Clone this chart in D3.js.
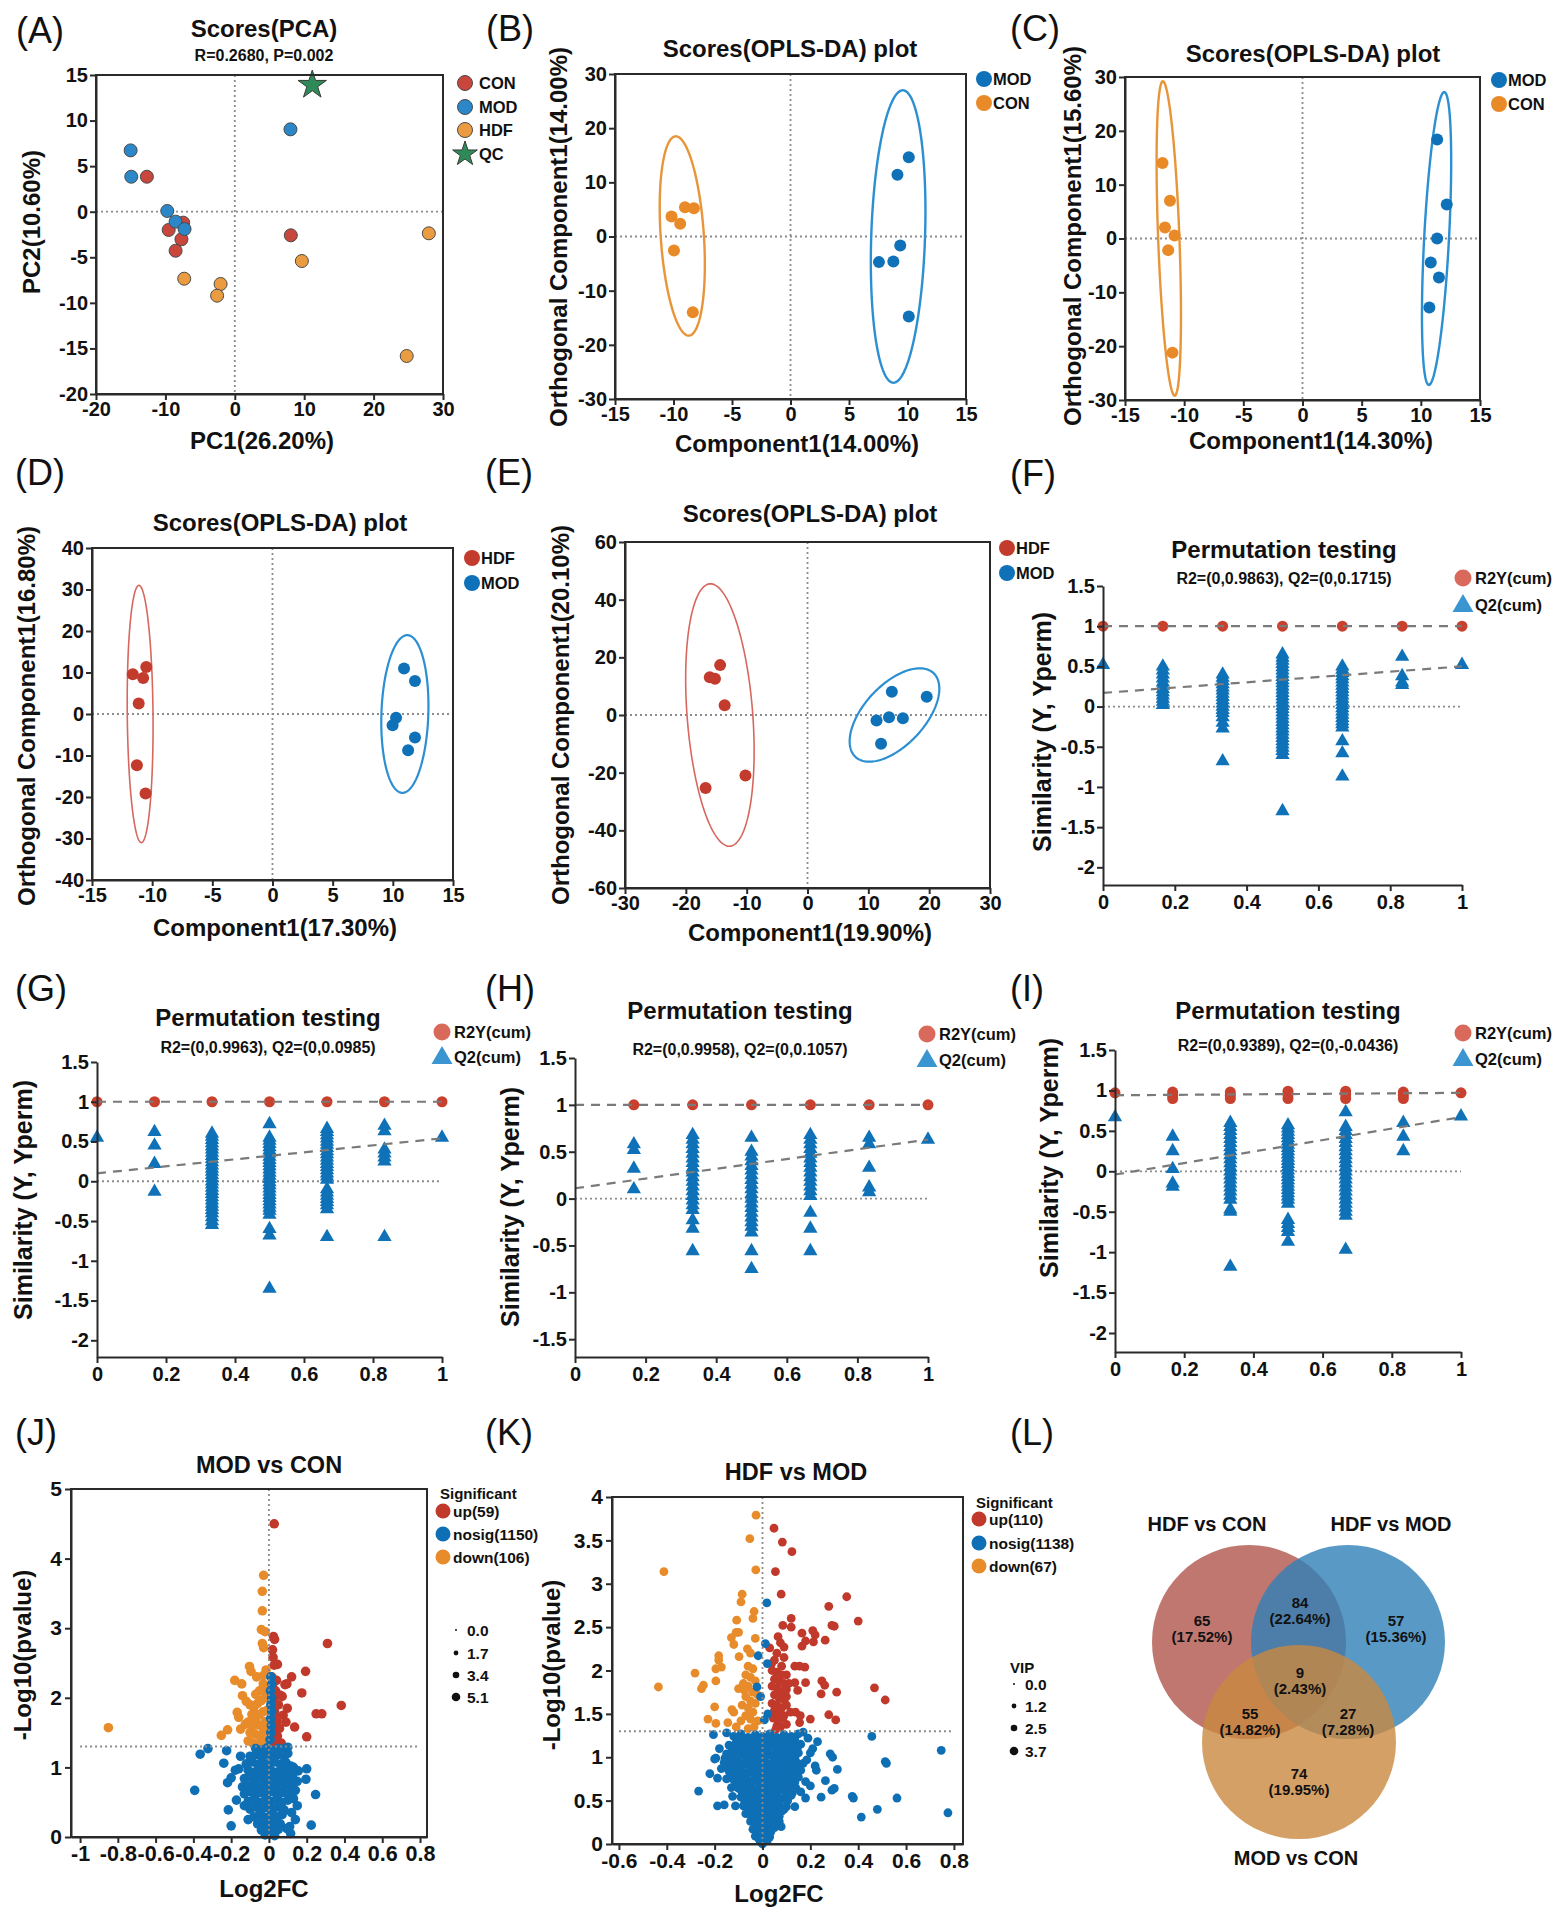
<!DOCTYPE html>
<html>
<head>
<meta charset="utf-8">
<script src="https://cdnjs.cloudflare.com/ajax/libs/d3/7.8.5/d3.min.js"></script>
<style>
  body { margin: 0; background: #fff; }
  svg { display: block; }
</style>
</head>
<body>
<svg id="fig"></svg>
<script>
// ---------- data ----------
// (A) PCA scores
const pcaCON = [[-12.67,3.84],[-9.53,-2.0],[-7.44,-1.2],[-7.69,-3.03],[-8.53,-4.28],[8.07,-2.59]];
const pcaMOD = [[-15.01,6.73],[-14.92,3.84],[-9.73,0.08],[-8.53,-1.09],[-7.24,-1.9],[8.02,9.04]];
const pcaHDF = [[-7.29,-7.35],[-2.05,-7.93],[-2.55,-9.21],[9.66,-5.41],[27.96,-2.37],[24.77,-15.83]];
const pcaQC = [[11.16,13.9]];

// (B)-(E) OPLS-DA scores
const bMOD = [[10.11,14.63],[9.14,11.38],[9.38,-1.65],[7.56,-4.73],[8.79,-4.6],[10.11,-14.75]];
const bCON = [[-10.17,3.69],[-9.43,2.34],[-9.02,5.4],[-8.26,5.23],[-9.96,-2.57],[-8.35,-14.0]];
const cMOD = [[11.38,18.37],[12.19,6.31],[11.38,0.0],[10.84,-4.45],[11.53,-7.23],[10.72,-12.8]];
const cCON = [[-11.83,14.04],[-11.2,7.0],[-11.62,2.05],[-10.81,0.56],[-11.35,-2.16],[-10.99,-21.2]];
const dHDF = [[-11.61,9.58],[-10.49,11.35],[-10.75,8.7],[-11.12,2.52],[-11.27,-12.33],[-10.55,-19.15]];
const dMOD = [[10.93,10.95],[11.84,7.98],[10.27,-0.93],[9.98,-2.7],[11.84,-5.67],[11.27,-8.72]];
const eHDF = [[-16.06,13.06],[-15.21,12.6],[-14.36,17.3],[-13.62,3.37],[-16.75,-25.35],[-10.2,-20.97]];
const eMOD = [[13.86,8.1],[19.6,6.37],[11.35,-1.94],[13.4,-0.78],[15.68,-1.13],[12.09,-10.0]];

// confidence ellipses: centre + two half-axis vectors (data units)
const bEllipses = [{cx:-9.25,cy:0.1,ax:-0.55,ay:18.4,bx:1.85,by:0}, {cx:9.2,cy:0,ax:0.4,ay:27,bx:2.3,by:0}];
const cEllipses = [{cx:-11.3,cy:0,ax:-0.5,ay:29.2,bx:0.9,by:0}, {cx:11.33,cy:0,ax:0.65,ay:27.2,bx:1.05,by:0}];
const dEllipses = [{cx:-11.0,cy:0,ax:-0.1,ay:31,bx:1.07,by:0}, {cx:11.0,cy:0,ax:0.2,ay:19,bx:1.95,by:0}];
const eEllipses = [{cx:-14.4,cy:0,ax:-1.55,ay:45.5,bx:5.41,by:0}, {cx:14.3,cy:0,ax:6.0,ay:15.2,bx:4.28,by:-5.6}];

// (F)-(I) permutation tests, one list per permutation group
const permX = [0, 0.1667, 0.3333, 0.5, 0.6667, 0.8333, 1];
const fR2 = [[1],[1],[1],[1],[1],[1],[1]];
const fQ2 = [
  [0.52],
  [0.5,0.45,0.4,0.35,0.3,0.26,0.22,0.18,0.14,0.1,0.06,0.02],
  [0.4,0.36,0.32,0.28,0.24,0.2,0.16,0.12,0.08,0.04,0,-0.04,-0.08,-0.13,-0.2,-0.27,-0.68],
  [0.65,0.61,0.57,0.53,0.49,0.45,0.41,0.37,0.33,0.29,0.25,0.21,0.17,0.13,0.09,0.05,0.01,-0.03,-0.07,-0.11,-0.15,-0.19,-0.23,-0.27,-0.31,-0.35,-0.39,-0.43,-0.47,-0.51,-0.55,-0.6,-1.3],
  [0.5,0.46,0.42,0.38,0.34,0.3,0.26,0.22,0.18,0.14,0.1,0.06,0.02,-0.02,-0.06,-0.1,-0.14,-0.18,-0.22,-0.26,-0.43,-0.58,-0.87],
  [0.62,0.38,0.3,0.27],
  [0.52]
];
const fLines = [[[0,1],[1,1]], [[0,0.17],[1,0.5]]];

const gR2 = [[1],[1],[1],[1],[1],[1],[1]];
const gQ2 = [
  [0.55],
  [0.62,0.45,0.22,-0.13],
  [0.6,0.56,0.52,0.48,0.44,0.4,0.36,0.32,0.28,0.24,0.2,0.16,0.12,0.08,0.04,0,-0.04,-0.08,-0.12,-0.16,-0.2,-0.24,-0.28,-0.32,-0.36,-0.4,-0.45,-0.5,-0.55],
  [0.72,0.55,0.51,0.47,0.43,0.39,0.35,0.31,0.27,0.23,0.19,0.15,0.11,0.07,0.03,-0.01,-0.05,-0.09,-0.13,-0.17,-0.21,-0.25,-0.29,-0.33,-0.37,-0.42,-0.6,-0.68,-1.35],
  [0.66,0.62,0.58,0.54,0.5,0.46,0.42,0.38,0.34,0.3,0.26,0.22,0.18,0.14,0.1,0.06,0.02,-0.1,-0.14,-0.18,-0.22,-0.26,-0.3,-0.35,-0.7],
  [0.7,0.63,0.4,0.35,0.3,0.25,-0.7],
  [0.55]
];
const gLines = [[[0,1],[1,1]], [[0,0.1],[1,0.54]]];

const hR2 = [[],[1],[1],[1],[1],[1],[1]];
const hQ2 = [
  [],
  [0.58,0.52,0.32,0.1],
  [0.68,0.63,0.58,0.53,0.48,0.43,0.38,0.33,0.28,0.23,0.18,0.13,0.08,0.03,-0.02,-0.07,-0.12,-0.23,-0.32,-0.56],
  [0.65,0.5,0.45,0.4,0.35,0.3,0.25,0.2,0.15,0.1,0.05,0,-0.05,-0.1,-0.15,-0.2,-0.25,-0.3,-0.36,-0.56,-0.75],
  [0.68,0.63,0.58,0.53,0.48,0.43,0.38,0.33,0.28,0.23,0.18,0.13,0.08,0.03,-0.15,-0.32,-0.56],
  [0.65,0.58,0.33,0.12,0.07],
  [0.63]
];
const hLines = [[[0,1],[1,1]], [[0,0.11],[1,0.63]]];

const iR2 = [[0.97],[0.98,0.94,0.9],[0.98,0.94,0.9],[0.99,0.95,0.9],[0.99,0.95,0.9],[0.98,0.94,0.9],[0.97]];
const iQ2 = [
  [0.67],
  [0.43,0.25,0.03,-0.15,-0.19],
  [0.6,0.55,0.5,0.45,0.4,0.35,0.3,0.25,0.2,0.15,0.1,0.05,0,-0.05,-0.1,-0.15,-0.2,-0.25,-0.3,-0.35,-0.47,-0.5,-1.18],
  [0.57,0.53,0.49,0.45,0.41,0.37,0.33,0.29,0.25,0.21,0.17,0.13,0.09,0.05,0.01,-0.03,-0.07,-0.11,-0.15,-0.19,-0.23,-0.27,-0.31,-0.35,-0.4,-0.6,-0.65,-0.7,-0.75,-0.87],
  [0.73,0.55,0.5,0.45,0.4,0.35,0.3,0.25,0.2,0.15,0.1,0.05,0,-0.05,-0.1,-0.15,-0.2,-0.25,-0.3,-0.35,-0.4,-0.45,-0.5,-0.55,-0.97],
  [0.6,0.43,0.25],
  [0.68]
];
const iLines = [[[0,0.94],[1,0.97]], [[0,-0.04],[1,0.67]]];

// (J) volcano MOD vs CON  [log2FC, -log10 p]
const jUp = [[0.028,4.5],[0.31,2.78],[0.024,2.88],[0.03,2.84],[0.019,2.69],[0.022,2.58],[0.028,2.47],[0.045,2.48],[0.194,2.38],[0.12,2.3],[0.085,2.19],[0.095,2.2],[0.174,2.07],[0.056,2.04],[0.383,1.89],[0.097,1.85],[0.25,1.77],[0.28,1.77],[0.075,1.75],[0.09,1.65],[0.043,1.66],[0.136,1.58],[0.056,1.56],[0.2,1.44],[0.028,1.47],[0.065,1.35],[0.015,2.3],[0.02,2.15],[0.025,1.95],[0.03,1.8],[0.015,1.7],[0.035,1.72],[0.02,1.55],[0.045,1.45],[0.03,1.35],[0.06,1.33],[0.012,1.4],[0.05,1.9],[0.04,2.25],[0.07,2.02],[0.035,2.1]];
const jDown = [[-0.85,1.57],[-0.252,1.46],[-0.219,1.54],[-0.168,1.79],[-0.16,1.72],[-0.15,1.55],[-0.181,2.25],[-0.144,2.2],[-0.103,2.45],[-0.095,2.38],[-0.065,2.3],[-0.028,3.76],[-0.035,3.53],[-0.035,3.25],[-0.04,2.98],[-0.02,2.95],[-0.035,2.78],[-0.028,2.72],[-0.015,2.4],[-0.03,2.32],[-0.14,2.03],[-0.12,1.95],[-0.1,1.9],[-0.08,1.86],[-0.06,1.92],[-0.04,1.96],[-0.02,2.0],[-0.09,1.76],[-0.07,1.7],[-0.05,1.76],[-0.03,1.8],[-0.11,1.65],[-0.085,1.6],[-0.06,1.61],[-0.04,1.6],[-0.02,1.66],[-0.1,1.5],[-0.075,1.48],[-0.05,1.45],[-0.03,1.5],[-0.012,1.55],[-0.11,1.38],[-0.085,1.35],[-0.06,1.32],[-0.04,1.35],[-0.02,1.38],[-0.125,1.62],[-0.01,1.82],[-0.015,2.1],[-0.05,2.1],[-0.07,2.05],[-0.03,2.2]];
const jNosig = [
  [-0.393,0.67],[-0.364,1.19],[-0.323,1.27],[-0.224,1.24],[-0.239,1.06],[-0.219,0.78],[-0.178,0.96],[-0.2,0.85],[-0.215,0.39],[-0.2,0.16],[-0.172,0.53],[-0.15,1.16],[-0.16,0.98],[-0.14,0.72],[-0.13,0.45],[-0.11,0.25],
  [0.2,0.98],[0.196,0.83],[0.247,0.61],[0.224,0.17],[0.15,0.8],[0.13,1.0],[0.115,1.02],[0.155,0.95],[0.14,0.67],[0.15,0.45],[0.14,0.25],[0.11,0.15],[0.115,0.05],[0.13,0.55],[0.12,0.35],[0.085,1.27],[0.1,1.29],[0.125,0.88],[0.095,0.12],
  [0.01,2.3],[0.015,2.2],[0.008,2.1],[0.014,2.0],[0.01,1.9],[0.015,1.8],[0.009,1.7],[0.013,1.6],[0.01,1.5],[0.006,1.4],
  [-0.07,1.27],[-0.04,1.25],[-0.01,1.28],[0.02,1.24],[0.05,1.27],[0.09,1.26],
  [-0.1,1.16],[-0.07,1.18],[-0.04,1.15],[-0.01,1.19],[0.02,1.16],[0.05,1.18],[0.08,1.15],[0.1,1.2],
  [-0.12,1.05],[-0.09,1.08],[-0.06,1.04],[-0.03,1.07],[0,1.05],[0.03,1.08],[0.06,1.04],[0.09,1.07],
  [-0.11,0.96],[-0.08,0.93],[-0.05,0.97],[-0.02,0.94],[0.01,0.96],[0.04,0.93],[0.07,0.97],[0.1,0.94],
  [-0.13,0.84],[-0.1,0.87],[-0.07,0.83],[-0.04,0.86],[-0.01,0.84],[0.02,0.87],[0.05,0.83],[0.08,0.86],[0.11,0.84],
  [-0.12,0.73],[-0.09,0.76],[-0.06,0.72],[-0.03,0.75],[0,0.73],[0.03,0.76],[0.06,0.72],[0.09,0.75],[0.12,0.73],
  [-0.13,0.62],[-0.1,0.65],[-0.07,0.61],[-0.04,0.64],[-0.01,0.62],[0.02,0.65],[0.05,0.61],[0.08,0.64],[0.11,0.62],
  [-0.11,0.51],[-0.08,0.54],[-0.05,0.5],[-0.02,0.53],[0.01,0.51],[0.04,0.54],[0.07,0.5],[0.1,0.53],
  [-0.1,0.4],[-0.07,0.43],[-0.04,0.39],[-0.01,0.42],[0.02,0.4],[0.05,0.43],[0.08,0.39],
  [-0.08,0.29],[-0.05,0.32],[-0.02,0.28],[0.01,0.31],[0.04,0.29],[0.07,0.32],
  [-0.06,0.19],[-0.03,0.22],[0,0.18],[0.03,0.21],[0.06,0.19],
  [-0.04,0.1],[-0.01,0.12],[0.02,0.09],[0.05,0.11],
  [-0.02,0.03],[0.01,0.04],[0.03,0.02]
];

// (K) volcano HDF vs MOD
const kUp = [[0.048,3.64],[0.083,3.48],[0.123,3.37],[0.054,3.14],[0.078,2.88],[0.352,2.85],[0.277,2.74],[0.4,2.57],[0.12,2.6],[0.12,2.5],[0.085,2.52],[0.29,2.52],[0.3,2.51],[0.21,2.46],[0.22,2.41],[0.165,2.43],[0.18,2.34],[0.262,2.35],[0.213,2.33],[0.065,2.39],[0.075,2.32],[0.09,2.27],[0.165,2.28],[0.03,2.26],[0.06,2.2],[0.09,2.15],[0.038,2.08],[0.05,2.12],[0.135,2.05],[0.155,2.05],[0.177,2.04],[0.08,2.05],[0.135,1.86],[0.18,1.86],[0.248,1.88],[0.26,1.83],[0.245,1.73],[0.31,1.75],[0.468,1.8],[0.513,1.66],[0.147,1.77],[0.1,1.7],[0.277,1.49],[0.306,1.43],[0.2,1.44],[0.155,1.4],[0.117,1.52],[0.138,1.52],[0.158,1.48],[0.085,1.45],[0.1,1.38],[0.06,1.36],
  [0.04,2.0],[0.06,1.98],[0.08,1.95],[0.05,1.9],[0.07,1.88],[0.09,1.85],[0.04,1.82],[0.06,1.8],[0.08,1.76],[0.1,1.78],[0.05,1.72],[0.07,1.68],[0.09,1.66],[0.04,1.62],[0.06,1.6],[0.08,1.57],[0.1,1.6],[0.05,1.54],[0.07,1.5],[0.09,1.48],[0.045,1.45],[0.065,1.42],[0.075,1.35],[0.055,1.32],[0.1,1.95],[0.11,1.85]];
const kDown = [[-0.027,3.79],[-0.053,3.52],[-0.028,3.16],[-0.412,3.14],[-0.085,2.88],[-0.09,2.79],[-0.035,2.68],[-0.04,2.6],[-0.108,2.58],[-0.11,2.44],[-0.1,2.44],[-0.13,2.38],[-0.03,2.37],[-0.12,2.3],[-0.063,2.25],[-0.05,2.2],[-0.183,2.17],[-0.183,2.12],[-0.098,2.16],[-0.282,1.97],[-0.195,2.02],[-0.172,2.04],[-0.247,1.83],[-0.255,1.79],[-0.435,1.81],[-0.195,1.88],[-0.2,1.58],[-0.128,1.55],[-0.12,1.52],[-0.228,1.44],[-0.195,1.39],[-0.145,1.4],[-0.1,1.79],[-0.075,1.77],
  [-0.06,2.05],[-0.04,2.02],[-0.07,1.95],[-0.05,1.92],[-0.03,1.88],[-0.08,1.85],[-0.06,1.82],[-0.04,1.75],[-0.02,1.72],[-0.07,1.7],[-0.05,1.65],[-0.03,1.62],[-0.085,1.6],[-0.06,1.57],[-0.04,1.52],[-0.07,1.48],[-0.05,1.44],[-0.02,1.42],[-0.09,1.42],[-0.035,1.35],[-0.06,1.33],[-0.11,1.35]];
const kNosig = [
  [0.747,1.08],[0.775,0.36],[0.457,1.24],[0.513,0.95],[0.518,0.93],[0.562,0.53],[0.48,0.4],[0.413,0.31],[0.375,0.55],[0.38,0.53],[0.313,0.86],[0.283,1.04],[0.293,1.0],[0.263,0.73],[0.3,0.64],[0.29,0.62],[0.245,0.54],[0.225,0.85],[0.21,1.1],[0.23,1.18],[0.185,0.97],[0.2,0.67],[0.18,0.53],[0.135,0.43],[0.078,0.2],
  [0.018,2.78],[0.012,2.31],[-0.018,2.17],[0.02,2.08],[-0.023,1.81],[-0.008,1.7],[0.022,1.5],[0.008,1.43],
  [-0.267,0.61],[-0.22,0.81],[-0.188,0.76],[-0.195,0.99],[-0.157,0.99],[-0.205,1.26],[-0.188,0.44],[-0.16,0.45],[-0.125,0.55],[-0.113,0.44],[-0.13,1.06],[-0.098,1.12],[-0.172,0.87],
  [0.19,1.22],[0.17,1.29],[-0.15,1.28],[-0.18,1.1],[0.2,1.05],[-0.2,0.98],[0.22,0.9],[0.18,0.72],[-0.15,0.75],[0.16,0.6],[-0.13,0.65],
  [-0.12,1.24],[-0.09,1.27],[-0.06,1.23],[-0.03,1.26],[0,1.24],[0.03,1.27],[0.06,1.23],[0.09,1.26],[0.12,1.24],[0.15,1.27],
  [-0.105,1.2],[-0.075,1.21],[-0.045,1.19],[-0.015,1.21],[0.015,1.2],[0.045,1.19],[0.075,1.21],[0.105,1.2],[0.135,1.21],
  [-0.14,1.14],[-0.11,1.17],[-0.08,1.13],[-0.05,1.16],[-0.02,1.14],[0.01,1.17],[0.04,1.13],[0.07,1.16],[0.1,1.14],[0.13,1.17],[0.16,1.15],
  [-0.125,1.1],[-0.095,1.09],[-0.065,1.11],[-0.035,1.1],[-0.005,1.09],[0.025,1.11],[0.055,1.1],[0.085,1.09],[0.115,1.11],[0.145,1.1],
  [-0.15,1.04],[-0.12,1.07],[-0.09,1.03],[-0.06,1.06],[-0.03,1.04],[0,1.07],[0.03,1.03],[0.06,1.06],[0.09,1.04],[0.12,1.07],[0.15,1.05],
  [-0.135,1.0],[-0.105,0.99],[-0.075,1.01],[-0.045,1.0],[-0.015,0.99],[0.015,1.01],[0.045,1.0],[0.075,0.99],[0.105,1.01],[0.135,1.0],
  [-0.16,0.94],[-0.13,0.97],[-0.1,0.93],[-0.07,0.96],[-0.04,0.94],[-0.01,0.97],[0.02,0.93],[0.05,0.96],[0.08,0.94],[0.11,0.97],[0.14,0.95],[0.17,0.93],
  [-0.145,0.9],[-0.115,0.89],[-0.085,0.91],[-0.055,0.9],[-0.025,0.89],[0.005,0.91],[0.035,0.9],[0.065,0.89],[0.095,0.91],[0.125,0.9],[0.155,0.89],
  [-0.14,0.84],[-0.11,0.87],[-0.08,0.83],[-0.05,0.86],[-0.02,0.84],[0.01,0.87],[0.04,0.83],[0.07,0.86],[0.1,0.84],[0.13,0.87],[0.16,0.85],
  [-0.125,0.8],[-0.095,0.79],[-0.065,0.81],[-0.035,0.8],[-0.005,0.79],[0.025,0.81],[0.055,0.8],[0.085,0.79],[0.115,0.81],[0.145,0.8],
  [-0.12,0.74],[-0.09,0.77],[-0.06,0.73],[-0.03,0.76],[0,0.74],[0.03,0.77],[0.06,0.73],[0.09,0.76],[0.12,0.74],[0.15,0.77],
  [-0.105,0.7],[-0.075,0.69],[-0.045,0.71],[-0.015,0.7],[0.015,0.69],[0.045,0.71],[0.075,0.7],[0.105,0.69],[0.135,0.71],
  [-0.1,0.64],[-0.07,0.67],[-0.04,0.63],[-0.01,0.66],[0.02,0.64],[0.05,0.67],[0.08,0.63],[0.11,0.66],[0.14,0.64],
  [-0.085,0.6],[-0.055,0.59],[-0.025,0.61],[0.005,0.6],[0.035,0.59],[0.065,0.61],[0.095,0.6],[0.125,0.59],
  [-0.09,0.54],[-0.06,0.57],[-0.03,0.53],[0,0.56],[0.03,0.54],[0.06,0.57],[0.09,0.53],[0.12,0.56],
  [-0.075,0.5],[-0.045,0.49],[-0.015,0.51],[0.015,0.5],[0.045,0.49],[0.075,0.51],[0.105,0.5],
  [-0.08,0.44],[-0.05,0.47],[-0.02,0.43],[0.01,0.46],[0.04,0.44],[0.07,0.47],[0.1,0.43],
  [-0.055,0.4],[-0.025,0.41],[0.005,0.39],[0.035,0.4],[0.065,0.41],[0.09,0.4],
  [-0.07,0.35],[-0.04,0.38],[-0.01,0.34],[0.02,0.37],[0.05,0.35],[0.08,0.38],
  [-0.045,0.31],[-0.015,0.32],[0.015,0.3],[0.045,0.31],[0.07,0.32],
  [-0.05,0.26],[-0.02,0.29],[0.01,0.25],[0.04,0.28],[0.07,0.26],
  [-0.03,0.22],[0,0.23],[0.03,0.21],[0.055,0.22],
  [-0.04,0.17],[-0.01,0.2],[0.02,0.16],[0.05,0.19],
  [-0.02,0.14],[0.01,0.13],[0.035,0.14],
  [-0.03,0.09],[0,0.11],[0.03,0.08],
  [-0.015,0.06],[0.015,0.06],
  [-0.01,0.03],[0.02,0.04],[0,0.0]
];
const jCounts = ["up(59)", "nosig(1150)", "down(106)"];
const kCounts = ["up(110)", "nosig(1138)", "down(67)"];
const jSizeLabels = ["0.0", "1.7", "3.4", "5.1"];
const kSizeLabels = ["0.0", "1.2", "2.5", "3.7"];

// (L) Venn
const vennSets = ["HDF vs CON", "HDF vs MOD", "MOD vs CON"];
const vennCounts = [65, 84, 57, 9, 55, 27, 74];
const vennPct = ["17.52%", "22.64%", "15.36%", "2.43%", "14.82%", "7.28%", "19.95%"];

// ---------- drawing ----------
const FONT = '"Liberation Sans", Arial, Helvetica, sans-serif';
const AX = "#2a2a2a";
const fmt = d => String(d);

const svg = d3.select("#fig").attr("width", 1563).attr("height", 1918).attr("font-family", FONT);
svg.append("rect").attr("width", 1563).attr("height", 1918).attr("fill", "#fff");

function label(g, x, y, s, size, weight, anchor) {
  return g.append("text").attr("x", x).attr("y", y).text(s)
    .attr("font-size", size).attr("font-weight", weight || "bold")
    .attr("text-anchor", anchor || "middle").attr("dominant-baseline", "central")
    .attr("fill", "#111");
}
function vlabel(g, x, y, s, size) {
  return g.append("text").attr("transform", "translate(" + x + "," + y + ") rotate(-90)")
    .text(s).attr("font-size", size).attr("font-weight", "bold")
    .attr("text-anchor", "middle").attr("dominant-baseline", "central").attr("fill", "#111");
}
function styleAxis(a, fs) {
  a.attr("font-family", FONT);
  a.select(".domain").attr("stroke", AX).attr("stroke-width", 2);
  a.selectAll(".tick line").attr("stroke", AX).attr("stroke-width", 2);
  a.selectAll(".tick text").attr("font-size", fs).attr("font-weight", "bold").attr("fill", "#111");
}
function dotted(g, x1, y1, x2, y2) {
  g.append("line").attr("x1", x1).attr("y1", y1).attr("x2", x2).attr("y2", y2)
    .attr("stroke", "#8c8c8c").attr("stroke-width", 1.8).attr("stroke-dasharray", "2,3");
}

// panel tags
[["(A)",16,30],["(B)",486,28],["(C)",1010,28],["(D)",15,472],["(E)",485,472],["(F)",1010,473],
 ["(G)",15,988],["(H)",485,988],["(I)",1010,988],["(J)",15,1432],["(K)",485,1432],["(L)",1010,1432]]
  .forEach(t => label(svg, t[1], t[2], t[0], 36, "normal", "start"));

function scorePanel(p) {
  const x = d3.scaleLinear().domain(p.xDom).range([p.left, p.right]);
  const y = d3.scaleLinear().domain(p.yDom).range([p.bottom, p.top]);
  const g = svg.append("g");
  dotted(g, x(0), p.top, x(0), p.bottom);
  dotted(g, p.left, y(0), p.right, y(0));
  (p.ellipses || []).forEach(e => {
    const ts = d3.range(0, 2 * Math.PI, Math.PI / 90);
    const line = d3.line()
      .x(t => x(e.cx + e.ax * Math.cos(t) + e.bx * Math.sin(t)))
      .y(t => y(e.cy + e.ay * Math.cos(t) + e.by * Math.sin(t)))
      .curve(d3.curveLinearClosed);
    g.append("path").attr("d", line(ts)).attr("fill", "none")
      .attr("stroke", e.color).attr("stroke-width", e.w);
  });
  p.series.forEach(s => {
    if (s.star) {
      g.selectAll(null).data(s.pts).join("path")
        .attr("d", d3.symbol(d3.symbolStar, 250)())
        .attr("transform", d => "translate(" + x(d[0]) + "," + y(d[1]) + ")")
        .attr("fill", s.color).attr("stroke", "#3a3a3a").attr("stroke-width", 1);
    } else {
      g.selectAll(null).data(s.pts).join("circle")
        .attr("cx", d => x(d[0])).attr("cy", d => y(d[1])).attr("r", s.r)
        .attr("fill", s.color).attr("stroke", s.stroke || "none").attr("stroke-width", 1);
    }
  });
  g.append("rect").attr("x", p.left).attr("y", p.top)
    .attr("width", p.right - p.left).attr("height", p.bottom - p.top)
    .attr("fill", "none").attr("stroke", AX).attr("stroke-width", 2);
  const xa = g.append("g").attr("transform", "translate(0," + p.bottom + ")")
    .call(d3.axisBottom(x).tickValues(p.xTicks).tickFormat(fmt).tickSize(6).tickSizeOuter(0).tickPadding(2));
  styleAxis(xa, 20);
  const ya = g.append("g").attr("transform", "translate(" + p.left + ",0)")
    .call(d3.axisLeft(y).tickValues(p.yTicks).tickFormat(fmt).tickSize(6).tickSizeOuter(0).tickPadding(2));
  styleAxis(ya, 20);
  label(g, p.titleX, p.titleY, p.title, 24);
  if (p.sub) label(g, p.titleX, p.subY, p.sub, 16);
  label(g, p.xlabX, p.xlabY, p.xlab, 24);
  vlabel(g, p.ylabX, p.ylabY, p.ylab, 24);
  p.legend.items.forEach((it, i) => {
    const ly = p.legend.ys[i];
    if (it.star) {
      g.append("path").attr("d", d3.symbol(d3.symbolStar, 190)())
        .attr("transform", "translate(" + p.legend.x + "," + ly + ")")
        .attr("fill", it.color).attr("stroke", "#3a3a3a").attr("stroke-width", 1);
    } else {
      g.append("circle").attr("cx", p.legend.x).attr("cy", ly).attr("r", p.legend.r)
        .attr("fill", it.color).attr("stroke", it.stroke || "none").attr("stroke-width", 1);
    }
    label(g, p.legend.x + p.legend.dx, ly, it.name, 16.5, "bold", "start");
  });
}

const C = { red: "#c23b2c", blue: "#0f72b8", orange: "#e98a28" };
const PC = { con: "#c9463d", mod: "#2b87c8", hdf: "#eb9c40", qc: "#2e8b57", edge: "#4a4a4a" };
const ELL = { red: "#d6685f", blue: "#2b8fd2", orange: "#e8953a" };

scorePanel({
  left: 96, right: 443, top: 75, bottom: 394, xDom: [-20, 30], yDom: [-20, 15],
  xTicks: [-20, -10, 0, 10, 20, 30], yTicks: [-20, -15, -10, -5, 0, 5, 10, 15],
  title: "Scores(PCA)", titleX: 264, titleY: 28, sub: "R=0.2680, P=0.002", subY: 55,
  xlab: "PC1(26.20%)", xlabX: 262, xlabY: 440, ylab: "PC2(10.60%)", ylabX: 31, ylabY: 222,
  series: [
    { pts: pcaCON, color: PC.con, r: 6.5, stroke: PC.edge },
    { pts: pcaMOD, color: PC.mod, r: 6.5, stroke: PC.edge },
    { pts: pcaHDF, color: PC.hdf, r: 6.5, stroke: PC.edge },
    { pts: pcaQC, color: PC.qc, star: true }
  ],
  legend: { x: 465, dx: 14, r: 7.5, ys: [83, 107, 130, 154], items: [
    { name: "CON", color: PC.con, stroke: PC.edge }, { name: "MOD", color: PC.mod, stroke: PC.edge },
    { name: "HDF", color: PC.hdf, stroke: PC.edge }, { name: "QC", color: PC.qc, star: true }] }
});

scorePanel({
  left: 615, right: 966, top: 74, bottom: 399, xDom: [-15, 15], yDom: [-30, 30],
  xTicks: [-15, -10, -5, 0, 5, 10, 15], yTicks: [-30, -20, -10, 0, 10, 20, 30],
  title: "Scores(OPLS-DA) plot", titleX: 790, titleY: 48,
  xlab: "Component1(14.00%)", xlabX: 797, xlabY: 443, ylab: "Orthogonal Component1(14.00%)", ylabX: 558, ylabY: 237,
  ellipses: [{ ...bEllipses[0], color: ELL.orange, w: 2.4 }, { ...bEllipses[1], color: ELL.blue, w: 2.4 }],
  series: [{ pts: bCON, color: C.orange, r: 6 }, { pts: bMOD, color: C.blue, r: 6 }],
  legend: { x: 984, dx: 9, r: 8, ys: [79, 103], items: [{ name: "MOD", color: C.blue }, { name: "CON", color: C.orange }] }
});

scorePanel({
  left: 1125, right: 1480, top: 77, bottom: 400, xDom: [-15, 15], yDom: [-30, 30],
  xTicks: [-15, -10, -5, 0, 5, 10, 15], yTicks: [-30, -20, -10, 0, 10, 20, 30],
  title: "Scores(OPLS-DA) plot", titleX: 1313, titleY: 53,
  xlab: "Component1(14.30%)", xlabX: 1311, xlabY: 440, ylab: "Orthogonal Component1(15.60%)", ylabX: 1072, ylabY: 236,
  ellipses: [{ ...cEllipses[0], color: ELL.orange, w: 2.4 }, { ...cEllipses[1], color: ELL.blue, w: 2.4 }],
  series: [{ pts: cCON, color: C.orange, r: 6 }, { pts: cMOD, color: C.blue, r: 6 }],
  legend: { x: 1499, dx: 9, r: 8, ys: [80, 104], items: [{ name: "MOD", color: C.blue }, { name: "CON", color: C.orange }] }
});

scorePanel({
  left: 92, right: 453, top: 548, bottom: 880, xDom: [-15, 15], yDom: [-40, 40],
  xTicks: [-15, -10, -5, 0, 5, 10, 15], yTicks: [-40, -30, -20, -10, 0, 10, 20, 30, 40],
  title: "Scores(OPLS-DA) plot", titleX: 280, titleY: 522,
  xlab: "Component1(17.30%)", xlabX: 275, xlabY: 927, ylab: "Orthogonal Component1(16.80%)", ylabX: 26, ylabY: 716,
  ellipses: [{ ...dEllipses[0], color: ELL.red, w: 1.6 }, { ...dEllipses[1], color: ELL.blue, w: 2.2 }],
  series: [{ pts: dHDF, color: C.red, r: 6 }, { pts: dMOD, color: C.blue, r: 6 }],
  legend: { x: 472, dx: 9, r: 8, ys: [558, 583], items: [{ name: "HDF", color: C.red }, { name: "MOD", color: C.blue }] }
});

scorePanel({
  left: 625, right: 990, top: 542, bottom: 888, xDom: [-30, 30], yDom: [-60, 60],
  xTicks: [-30, -20, -10, 0, 10, 20, 30], yTicks: [-60, -40, -20, 0, 20, 40, 60],
  title: "Scores(OPLS-DA) plot", titleX: 810, titleY: 513,
  xlab: "Component1(19.90%)", xlabX: 810, xlabY: 932, ylab: "Orthogonal Component1(20.10%)", ylabX: 560, ylabY: 715,
  ellipses: [{ ...eEllipses[0], color: ELL.red, w: 1.6 }, { ...eEllipses[1], color: ELL.blue, w: 2.2 }],
  series: [{ pts: eHDF, color: C.red, r: 6 }, { pts: eMOD, color: C.blue, r: 6 }],
  legend: { x: 1007, dx: 9, r: 8, ys: [548, 573], items: [{ name: "HDF", color: C.red }, { name: "MOD", color: C.blue }] }
});

// permutation panels
const R2C = "#c8402e", Q2C = "#0f72b8";
function permPanel(p) {
  const x = d3.scaleLinear().domain([0, 1]).range([p.left, p.right]);
  const y = d3.scaleLinear().domain([p.yLow, 1.5]).range([p.bottom, p.top]);
  const g = svg.append("g");
  dotted(g, x(0), y(0), x(1), y(0));
  const tri = d3.symbol(d3.symbolTriangle, 88)();
  p.q2.forEach((col, i) => {
    g.selectAll(null).data(col).join("path").attr("d", tri)
      .attr("transform", v => "translate(" + x(permX[i]) + "," + y(v) + ")")
      .attr("fill", Q2C);
  });
  p.r2.forEach((col, i) => {
    g.selectAll(null).data(col).join("circle")
      .attr("cx", x(permX[i])).attr("cy", v => y(v)).attr("r", 5.5).attr("fill", R2C);
  });
  const ln = d3.line().x(d => x(d[0])).y(d => y(d[1]));
  p.lines.forEach(l => g.append("path").attr("d", ln(l)).attr("fill", "none")
    .attr("stroke", "#7a7a7a").attr("stroke-width", 2.2).attr("stroke-dasharray", "9,7"));
  const xa = g.append("g").attr("transform", "translate(0," + p.bottom + ")")
    .call(d3.axisBottom(x).tickValues([0, 0.2, 0.4, 0.6, 0.8, 1]).tickFormat(fmt).tickSize(6).tickSizeOuter(0).tickPadding(4));
  styleAxis(xa, 20);
  const ya = g.append("g").attr("transform", "translate(" + p.left + ",0)")
    .call(d3.axisLeft(y).tickValues(p.yTicks).tickFormat(fmt).tickSize(6).tickSizeOuter(0).tickPadding(2));
  styleAxis(ya, 20);
  label(g, p.titleX, p.titleY, "Permutation testing", 24);
  label(g, p.titleX, p.subY, p.sub, 16);
  vlabel(g, p.ylabX, p.ylabY, "Similarity (Y, Yperm)", 25);
  g.append("circle").attr("cx", p.legX).attr("cy", p.legY[0]).attr("r", 8.5).attr("fill", "#d9695b");
  g.append("path").attr("d", d3.symbol(d3.symbolTriangle, 190)())
    .attr("transform", "translate(" + p.legX + "," + (p.legY[1] + 1) + ")").attr("fill", "#3a95d1");
  label(g, p.legX + 12, p.legY[0], "R2Y(cum)", 16.5, "bold", "start");
  label(g, p.legX + 12, p.legY[1], "Q2(cum)", 16.5, "bold", "start");
}
const yt8 = [1.5, 1, 0.5, 0, -0.5, -1, -1.5, -2];
permPanel({ left: 1103, right: 1462, top: 586, bottom: 885, yLow: -2.22, yTicks: yt8, r2: fR2, q2: fQ2, lines: fLines,
  titleX: 1284, titleY: 549, subY: 578, sub: "R2=(0,0.9863), Q2=(0,0.1715)", ylabX: 1042, ylabY: 732, legX: 1463, legY: [578, 605] });
permPanel({ left: 97, right: 442, top: 1062, bottom: 1357, yLow: -2.21, yTicks: yt8, r2: gR2, q2: gQ2, lines: gLines,
  titleX: 268, titleY: 1017, subY: 1047, sub: "R2=(0,0.9963), Q2=(0,0.0985)", ylabX: 23, ylabY: 1200, legX: 442, legY: [1032, 1057] });
permPanel({ left: 575, right: 928, top: 1058, bottom: 1357, yLow: -1.69, yTicks: [1.5, 1, 0.5, 0, -0.5, -1, -1.5], r2: hR2, q2: hQ2, lines: hLines,
  titleX: 740, titleY: 1010, subY: 1049, sub: "R2=(0,0.9958), Q2=(0,0.1057)", ylabX: 510, ylabY: 1207, legX: 927, legY: [1034, 1060] });
permPanel({ left: 1115, right: 1461, top: 1050, bottom: 1352, yLow: -2.235, yTicks: yt8, r2: iR2, q2: iQ2, lines: iLines,
  titleX: 1288, titleY: 1010, subY: 1045, sub: "R2=(0,0.9389), Q2=(0,-0.0436)", ylabX: 1049, ylabY: 1158, legX: 1463, legY: [1033, 1059] });

// volcano panels
const VC = { up: "#c0392b", nosig: "#0f6fb5", down: "#e88b2a" };
function volcano(p) {
  const x = d3.scaleLinear().domain(p.xDom).range([p.left, p.right]);
  const y = d3.scaleLinear().domain([0, p.yMax]).range([p.bottom, p.top]);
  const g = svg.append("g");
  [[p.down, VC.down], [p.up, VC.up], [p.nosig, VC.nosig]].forEach(s => {
    g.selectAll(null).data(s[0]).join("circle")
      .attr("cx", d => x(d[0])).attr("cy", d => y(d[1])).attr("r", p.r).attr("fill", s[1]);
  });
  dotted(g, x(p.xTicks[0]), y(1.3), x(p.xTicks[p.xTicks.length - 1]), y(1.3));
  dotted(g, x(0), p.top, x(0), p.bottom);
  g.append("rect").attr("x", p.left).attr("y", p.top)
    .attr("width", p.right - p.left).attr("height", p.bottom - p.top)
    .attr("fill", "none").attr("stroke", AX).attr("stroke-width", 2);
  const xa = g.append("g").attr("transform", "translate(0," + p.bottom + ")")
    .call(d3.axisBottom(x).tickValues(p.xTicks).tickFormat(fmt).tickSize(6).tickSizeOuter(0).tickPadding(3));
  styleAxis(xa, p.tickFs);
  const ya = g.append("g").attr("transform", "translate(" + p.left + ",0)")
    .call(d3.axisLeft(y).tickValues(p.yTicks).tickFormat(fmt).tickSize(6).tickSizeOuter(0).tickPadding(3));
  styleAxis(ya, 21);
  label(g, p.titleX, p.titleY, p.title, 23.5);
  label(g, p.xlabX, p.xlabY, "Log2FC", 24);
  vlabel(g, p.ylabX, p.ylabY, "-Log10(pvalue)", 24);
  label(g, p.legX - 3, p.legTitleY, "Significant", 15, "bold", "start");
  [VC.up, VC.nosig, VC.down].forEach((c, i) => {
    g.append("circle").attr("cx", p.legX).attr("cy", p.legYs[i]).attr("r", 7.5).attr("fill", c);
    label(g, p.legX + 10, p.legYs[i], p.counts[i], 15.5, "bold", "start");
  });
  if (p.sizeTitle) label(g, p.sizeX - 4, p.sizeTitleY, p.sizeTitle, 15, "bold", "start");
  [1, 2.4, 3.3, 4.3].forEach((r, i) => {
    g.append("circle").attr("cx", p.sizeX).attr("cy", p.sizeYs[i]).attr("r", r).attr("fill", "#111");
    label(g, p.sizeX + 11, p.sizeYs[i], p.sizeLabels[i], 15.5, "bold", "start");
  });
}
volcano({ left: 71, right: 427, top: 1489, bottom: 1837, xDom: [-1.048, 0.837], yMax: 5, r: 4.8, tickFs: 21.5,
  xTicks: [-1, -0.8, -0.6, -0.4, -0.2, 0, 0.2, 0.4, 0.6, 0.8], yTicks: [0, 1, 2, 3, 4, 5],
  up: jUp, down: jDown, nosig: jNosig, title: "MOD vs CON", titleX: 269, titleY: 1465,
  xlabX: 264, xlabY: 1888, ylabX: 22, ylabY: 1655,
  legX: 443, legTitleY: 1493, legYs: [1511, 1534, 1557], counts: jCounts,
  sizeX: 456, sizeYs: [1630, 1653, 1675, 1697], sizeLabels: jSizeLabels });
volcano({ left: 612, right: 963, top: 1497, bottom: 1844, xDom: [-0.629, 0.838], yMax: 4, r: 4.4, tickFs: 21,
  xTicks: [-0.6, -0.4, -0.2, 0, 0.2, 0.4, 0.6, 0.8], yTicks: [0, 0.5, 1, 1.5, 2, 2.5, 3, 3.5, 4],
  up: kUp, down: kDown, nosig: kNosig, title: "HDF vs MOD", titleX: 796, titleY: 1472,
  xlabX: 779, xlabY: 1893, ylabX: 551, ylabY: 1665,
  legX: 979, legTitleY: 1502, legYs: [1519, 1543, 1566], counts: kCounts,
  sizeTitle: "VIP", sizeTitleY: 1667, sizeX: 1014, sizeYs: [1684, 1706, 1728, 1751], sizeLabels: kSizeLabels });

// Venn diagram (L)
const vennCircles = [
  { cx: 1249, cy: 1642, r: 97, fill: "#a94a40", op: 0.75 },
  { cx: 1348, cy: 1642, r: 97, fill: "#2f80b8", op: 0.8 },
  { cx: 1299, cy: 1742, r: 97, fill: "#c98840", op: 0.8 }
];
const vg = svg.append("g");
vg.selectAll("circle").data(vennCircles).join("circle")
  .attr("cx", d => d.cx).attr("cy", d => d.cy).attr("r", d => d.r)
  .attr("fill", d => d.fill).attr("fill-opacity", d => d.op);
[[1207, 1524], [1391, 1524], [1296, 1858]].forEach((p, i) => label(vg, p[0], p[1], vennSets[i], 20));
const vennPos = [[1202, 1620], [1300, 1602], [1396, 1620], [1300, 1672], [1250, 1713], [1348, 1713], [1299, 1773]];
vennPos.forEach((p, i) => {
  label(vg, p[0], p[1], String(vennCounts[i]), 15);
  label(vg, p[0], p[1] + 16, "(" + vennPct[i] + ")", 15);
});
</script>
</body>
</html>
